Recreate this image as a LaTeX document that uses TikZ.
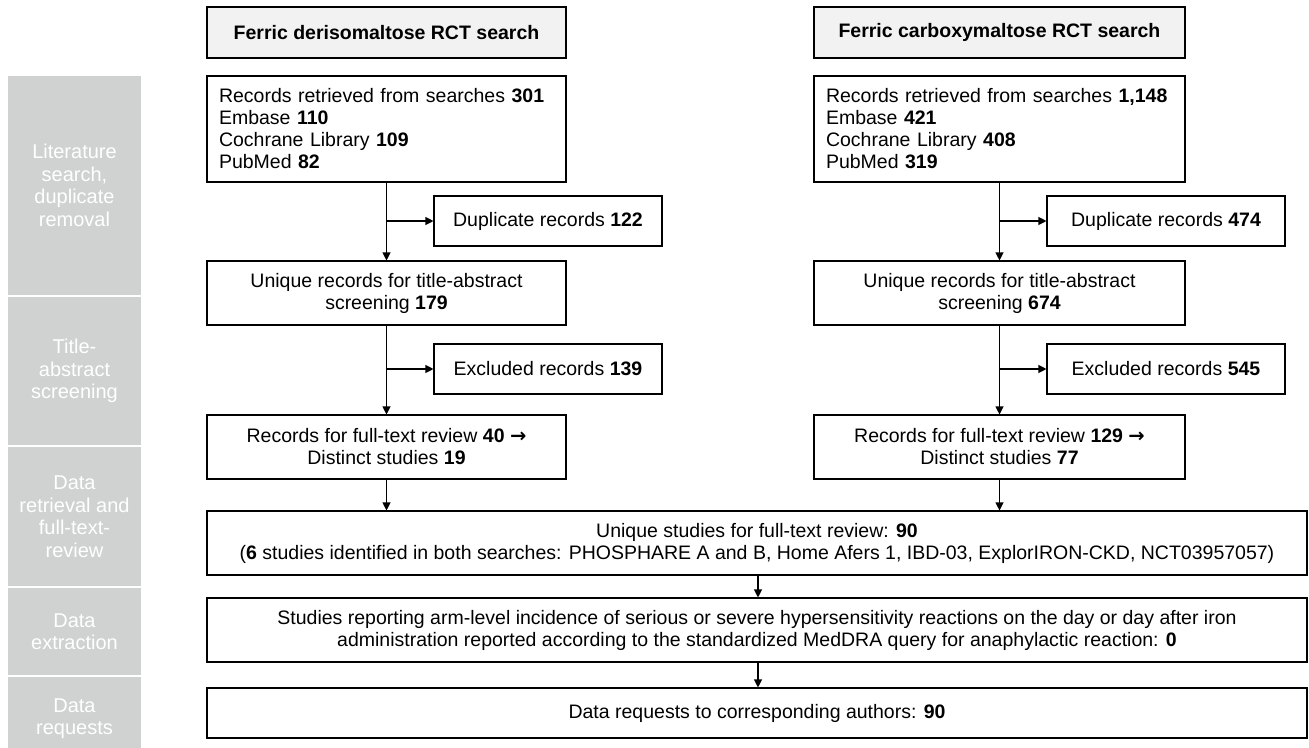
\documentclass[tikz,border=0pt]{standalone}
\usepackage{fontspec}
\setmainfont{Liberation Sans}
\newfontfamily\arrowfont{DejaVu Sans}
\usetikzlibrary{positioning,arrows.meta}
\definecolor{stagegray}{RGB}{208,209,209}
\definecolor{headgray}{RGB}{242,242,242}
\tikzset{arr/.style={-{Triangle[width=8pt,length=8pt]}}}
\newcommand{\rarr}{{\arrowfont\bfseries →}}

\begin{document}
\begin{tikzpicture}[x=1pt,y=-1pt,
  line width=1.1pt,
  every node/.style={inner sep=0pt,font=\fontsize{19.5}{22}\selectfont},
  stagebox/.style={fill=stagegray,text=white,align=center,minimum width=133pt,font=\fontsize{20}{22.5}\selectfont},
  hdnode/.style={draw,fill=headgray,minimum height=51pt,font=\bfseries\fontsize{19.5}{22}\selectfont},
  recnode/.style={draw,align=left,minimum height=106pt},
  boxnode/.style={draw,align=center,minimum height=64pt},
  sidenode/.style={draw,minimum height=50pt},
  widenode/.style={draw,align=center,minimum width=1100pt,minimum height=64pt}
  ]
  \useasboundingbox (0,0) rectangle (1309,747);

  % the stages on the left
  \foreach \ya/\yb/\txt [count=\i] in {76/295/{Literature\\search,\\duplicate\\removal},
      297/445/{Title-\\abstract\\screening},
      447/586/{Data\\retrieval and\\full-text-\\review},
      588/675/{Data\\extraction},
      677/760/{Data\\requests}}
    \node[stagebox,minimum height={(\yb-\ya)*1pt}] (stage\i) at (74.5,{(\ya+\yb)/2}) {\txt};

  % the derisomaltose search
  \node[hdnode,minimum width=359pt] (head1) at (386.5,32.5) {Ferric derisomaltose RCT search};
  \node[recnode,minimum width=359pt,text width=335pt] (rec1) at (386.5,129)
    {Records retrieved from searches \textbf{301}\\Embase \textbf{110}\\Cochrane Library \textbf{109}\\PubMed \textbf{82}};
  \node[sidenode,minimum width=228pt] (dup1) at (548,221) {Duplicate records \textbf{122}};
  \node[boxnode,minimum width=359pt] (uniq1) at (386.5,293) {Unique records for title-abstract\\screening \textbf{179}};
  \node[sidenode,minimum width=228pt] (excl1) at (548,369) {Excluded records \textbf{139}};
  \node[boxnode,minimum width=359pt] (full1) at (386.5,447) {Records for full-text review \textbf{40} \rarr\\Distinct studies \textbf{19}};

  % the carboxymaltose search
  \node[hdnode,minimum width=371pt] (head2) at (999.5,32.5) {Ferric carboxymaltose RCT search};
  \node[recnode,minimum width=371pt,text width=347pt] (rec2) at (999.5,129)
    {Records retrieved from searches \textbf{1,148}\\Embase \textbf{421}\\Cochrane Library \textbf{408}\\PubMed \textbf{319}};
  \node[sidenode,minimum width=238pt] (dup2) at (1166,221) {Duplicate records \textbf{474}};
  \node[boxnode,minimum width=371pt] (uniq2) at (999.5,293) {Unique records for title-abstract\\screening \textbf{674}};
  \node[sidenode,minimum width=238pt] (excl2) at (1166,369) {Excluded records \textbf{545}};
  \node[boxnode,minimum width=371pt] (full2) at (999.5,447) {Records for full-text review \textbf{129} \rarr\\Distinct studies \textbf{77}};

  % the common part
  \node[widenode] (studies) at (757,543) {Unique studies for full-text review: \textbf{90}\\(\textbf{6} studies identified in both searches: PHOSPHARE A and B, Home Afers 1, IBD-03, ExplorIRON-CKD, NCT03957057)};
  \node[widenode] (report) at (757,630) {Studies reporting arm-level incidence of serious or severe hypersensitivity reactions on the day or day after iron\\administration reported according to the standardized MedDRA query for anaphylactic reaction: \textbf{0}};
  \node[widenode,minimum height=50pt] (req) at (757,713) {Data requests to corresponding authors: \textbf{90}};
  \coordinate (midx) at (758,0);

  % the arrows
  \foreach \s in {1,2} {
    \draw[arr] (rec\s) -- (uniq\s);
    \draw[arr] (rec\s.south |- dup\s.west) -- (dup\s.west);
    \draw[arr] (uniq\s) -- (full\s);
    \draw[arr] (uniq\s.south |- excl\s.west) -- (excl\s.west);
    \draw[arr] (full\s) -- (full\s |- studies.north);
  }
  \draw[arr] (studies.south -| midx) -- (report.north -| midx);
  \draw[arr] (report.south -| midx) -- (req.north -| midx);
\end{tikzpicture}
\end{document}
